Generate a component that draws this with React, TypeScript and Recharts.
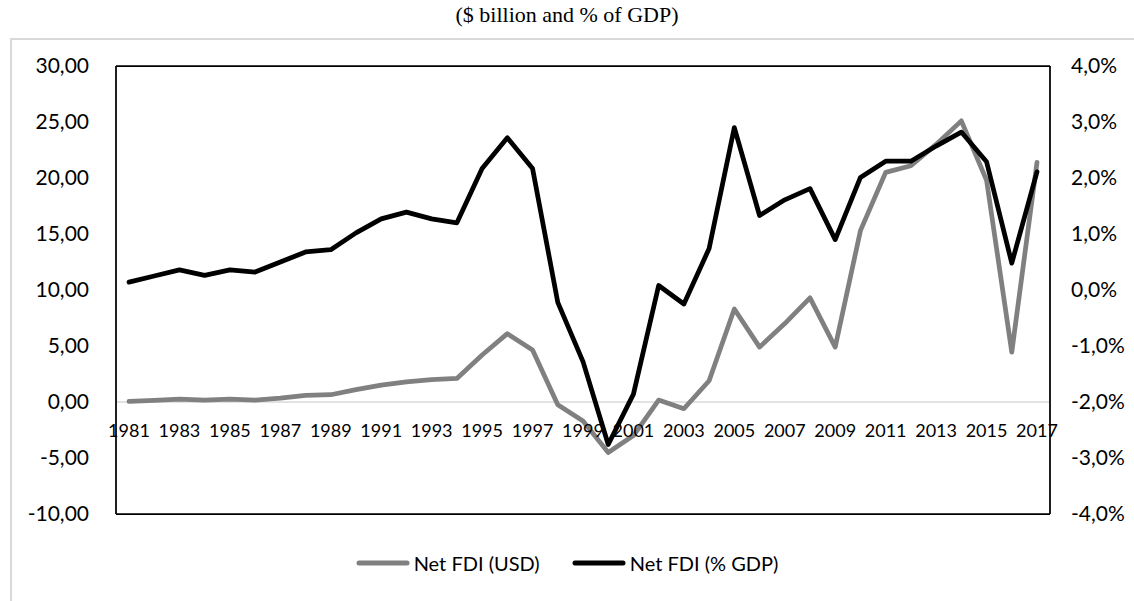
import { Legend, Line, LineChart, ReferenceLine, XAxis, YAxis } from "recharts";

const years = [
  "1981", "1982", "1983", "1984", "1985", "1986", "1987", "1988", "1989", "1990",
  "1991", "1992", "1993", "1994", "1995", "1996", "1997", "1998", "1999", "2000",
  "2001", "2002", "2003", "2004", "2005", "2006", "2007", "2008", "2009", "2010",
  "2011", "2012", "2013", "2014", "2015", "2016", "2017",
];

// Net FDI, $ billion (left axis)
const netFdiUsd = [
  0.05, 0.15, 0.26, 0.17, 0.26, 0.17, 0.35, 0.6, 0.65, 1.1,
  1.5, 1.8, 2.0, 2.1, 4.2, 6.1, 4.65, -0.25, -1.7, -4.5,
  -3.0, 0.17, -0.6, 1.9, 8.3, 4.9, 7.0, 9.3, 4.9, 15.3,
  20.5, 21.1, 23.0, 25.1, 19.8, 4.45, 21.4,
];

// Net FDI, % of GDP (right axis)
const netFdiPct = [
  0.14, 0.25, 0.36, 0.26, 0.36, 0.32, 0.5, 0.68, 0.72, 1.02,
  1.27, 1.39, 1.27, 1.2, 2.17, 2.72, 2.17, -0.22, -1.28, -2.76,
  -1.86, 0.08, -0.25, 0.74, 2.9, 1.33, 1.61, 1.81, 0.9, 2.01,
  2.3, 2.3, 2.57, 2.82, 2.29, 0.48, 2.11,
];

const leftTicks = [-10, -5, 0, 5, 10, 15, 20, 25, 30];
const rightTicks = [-4, -3, -2, -1, 0, 1, 2, 3, 4];
const seriesOrder = ["Net FDI (USD)", "Net FDI (% GDP)"];

const data = years.map((year, i) => ({ year, usd: netFdiUsd[i], pct: netFdiPct[i] }));

const FONT = "Lato, 'Open Sans', sans-serif";
const comma = (v: number, d: number) => v.toFixed(d).replace(".", ",");

// Excel draws the category labels just under the zero line, not at the plot bottom
function YearTick({ x, y, payload }: any) {
  return (
    <text x={x} y={y - 84} textAnchor="middle" dominantBaseline="central" fontSize={18} fontFamily={FONT} fill="#000">
      {payload.value}
    </text>
  );
}

function LegendContent({ payload }: any) {
  const items = [...(payload || [])].sort(
    (a: any, b: any) => seriesOrder.indexOf(a.value) - seriesOrder.indexOf(b.value)
  );
  return (
    <div style={{ display: "flex", justifyContent: "center", gap: 32, fontFamily: FONT, fontSize: 20 }}>
      {items.map((p: any) => (
        <div key={p.value} style={{ display: "flex", alignItems: "center", gap: 4 }}>
          <svg width={54} height={8}>
            <line x1={3} y1={4} x2={51} y2={4} stroke={p.color} strokeWidth={5} strokeLinecap="round" />
          </svg>
          <span>{p.value}</span>
        </div>
      ))}
    </div>
  );
}

export default function App() {
  return (
    <div style={{ position: "absolute", left: 0, top: 0, width: 1134, height: 601, background: "#fff", overflow: "hidden" }}>
      <div
        style={{
          position: "absolute", top: 2, left: 0, width: 1134, textAlign: "center",
          fontFamily: "'Liberation Serif', 'Times New Roman', serif", fontSize: 22,
        }}
      >
        ($ billion and % of GDP)
      </div>
      <div
        style={{
          position: "absolute", left: 10, top: 38, width: 1200, height: 700,
          borderLeft: "2px solid #d9d9d9", borderTop: "2px solid #d9d9d9",
        }}
      />
      <LineChart
        width={1134}
        height={601}
        data={data}
        margin={{ top: 65, right: 0, bottom: 27, left: 0 }}
        style={{ position: "absolute", left: 0, top: 0 }}
      >
        <XAxis
          xAxisId="top"
          orientation="top"
          dataKey="year"
          height={1}
          tick={false}
          tickLine={false}
          padding={{ left: 13, right: 13 }}
          axisLine={{ stroke: "#000", strokeWidth: 1.75 }}
        />
        <XAxis
          dataKey="year"
          height={30}
          interval={1}
          tickLine={false}
          tickSize={0}
          tickMargin={0}
          padding={{ left: 13, right: 13 }}
          axisLine={{ stroke: "#000", strokeWidth: 1.75 }}
          tick={<YearTick />}
        />
        <YAxis
          yAxisId="left"
          width={116}
          domain={[-10, 30]}
          ticks={leftTicks}
          tickFormatter={(v: number) => comma(v, 2)}
          tickLine={false}
          tickSize={0}
          tickMargin={27}
          axisLine={{ stroke: "#000", strokeWidth: 1.75 }}
          tick={{ fontSize: 21, fontFamily: FONT, fill: "#000" }}
        />
        <YAxis
          yAxisId="right"
          orientation="right"
          width={84}
          domain={[-4, 4]}
          ticks={rightTicks}
          tickFormatter={(v: number) => comma(v, 1) + "%"}
          tickLine={false}
          tickSize={0}
          tickMargin={21}
          axisLine={{ stroke: "#000", strokeWidth: 1.75 }}
          tick={{ fontSize: 21, fontFamily: FONT, fill: "#000" }}
        />
        <ReferenceLine yAxisId="left" y={0} stroke="#d9d9d9" strokeWidth={1.5} />
        <Line
          yAxisId="left"
          dataKey="usd"
          name="Net FDI (USD)"
          stroke="#808080"
          strokeWidth={4.75}
          strokeLinejoin="round"
          strokeLinecap="round"
          dot={false}
          isAnimationActive={false}
        />
        <Line
          yAxisId="right"
          dataKey="pct"
          name="Net FDI (% GDP)"
          stroke="#000000"
          strokeWidth={4.75}
          strokeLinejoin="round"
          strokeLinecap="round"
          dot={false}
          isAnimationActive={false}
        />
        <Legend
          verticalAlign="bottom"
          content={<LegendContent />}
          wrapperStyle={{ position: "absolute", left: 0, top: 551, width: 1134, height: 30 }}
        />
      </LineChart>
    </div>
  );
}
